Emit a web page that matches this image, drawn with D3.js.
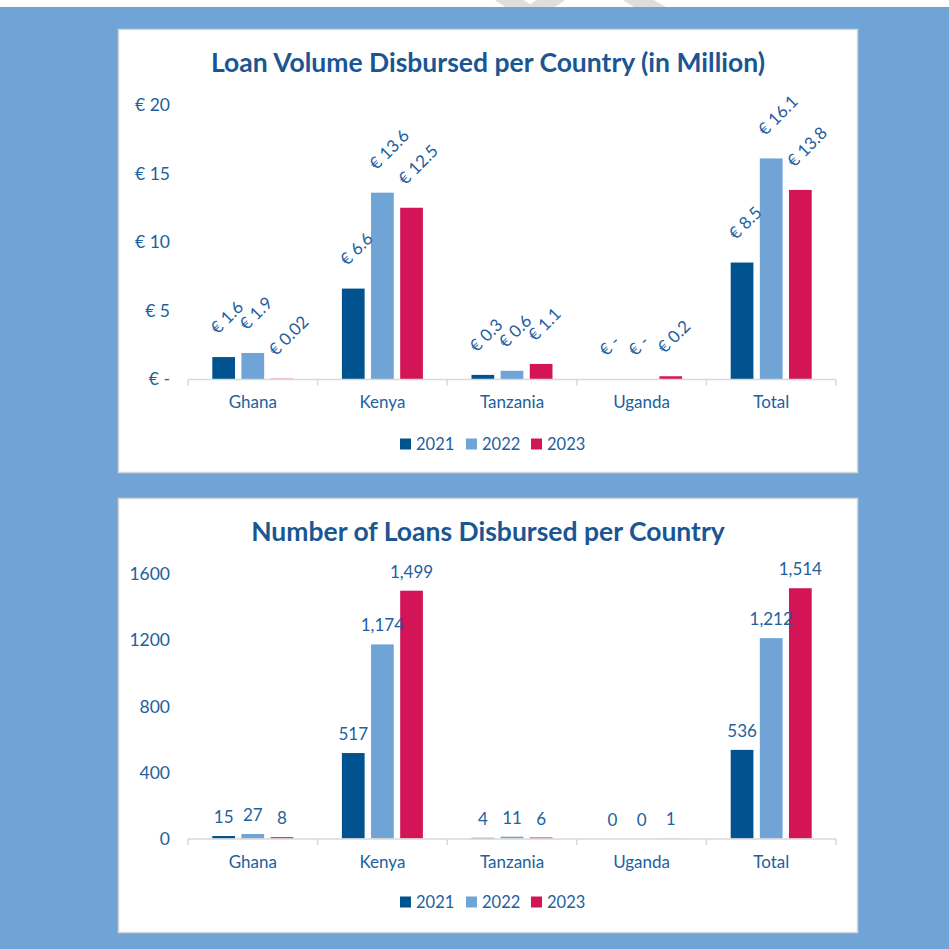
<!DOCTYPE html>
<html>
<head>
<meta charset="utf-8">
<script src="https://cdn.jsdelivr.net/npm/d3@7"></script>
<style>
  html, body { margin: 0; padding: 0; background: #ffffff; }
  svg { display: block; font-family: Lato, 'Noto Sans', sans-serif; }
</style>
</head>
<body>
<div id="container"></div>
<script>
// data
const countries = ['Ghana', 'Kenya', 'Tanzania', 'Uganda', 'Total'];
const years = ['2021', '2022', '2023'];
const yearColors = ['#00538f', '#70a3d6', '#d31558'];

const volume2021 = [1.6, 6.6, 0.3, 0, 8.5];
const volume2022 = [1.9, 13.6, 0.6, 0, 16.1];
const volume2023 = [0.02, 12.5, 1.1, 0.2, 13.8];
const volumeTicks = [0, 5, 10, 15, 20];

const loans2021 = [15, 517, 4, 0, 536];
const loans2022 = [27, 1174, 11, 0, 1212];
const loans2023 = [8, 1499, 6, 1, 1514];
const loanTicks = [0, 400, 800, 1200, 1600];

const titleColor = '#1b5694';
const textColor = '#22609e';

const width = 949;
const height = 949;

const svg = d3.select('#container')
  .append('svg')
  .attr('width', width)
  .attr('height', height);

// 1. background + faint watermark at the very top
svg.append('rect')
  .attr('x', 0).attr('y', 0)
  .attr('width', width).attr('height', height)
  .attr('fill', '#ffffff');

svg.append('path')
  .attr('d', 'M500,-6 L530,14 L560,-6 M628,-6 L672,20')
  .attr('fill', 'none')
  .attr('stroke', '#dedede')
  .attr('stroke-width', 16);

svg.append('rect')
  .attr('x', 0).attr('y', 7)
  .attr('width', width).attr('height', height - 7)
  .attr('fill', '#70a3d6');

function euro(v) {
  return v === 0 ? '€ -' : `€ ${v}`;
}

function drawChart({top, bottom, title, titleY, axisY, domainTop, ticks, tickFormat, series, labelFormat, rotated, legendY}) {
  // panel
  svg.append('rect')
    .attr('x', 118.5).attr('y', top + 0.5)
    .attr('width', 739).attr('height', bottom - top)
    .attr('fill', '#ffffff')
    .attr('stroke', '#d6d6d6')
    .attr('stroke-width', 1.5);

  const g = svg.append('g');

  g.append('text')
    .attr('x', 488)
    .attr('y', titleY)
    .attr('text-anchor', 'middle')
    .attr('font-size', 26.5)
    .attr('font-weight', 'bold')
    .attr('fill', titleColor)
    .text(title);

  // scales
  const x0 = d3.scaleBand().domain(countries).range([188, 836]);
  const bw = x0.bandwidth();
  const x1 = d3.scaleBand().domain(years).range([bw / 2 - 40.5, bw / 2 + 40.5]).paddingInner(0.22);
  const yScale = d3.scaleLinear().domain([0, ticks[ticks.length - 1]]).range([axisY, domainTop]);

  // y tick labels
  g.selectAll('.ytick')
    .data(ticks)
    .enter()
    .append('text')
    .attr('x', 170)
    .attr('y', d => yScale(d))
    .attr('dy', '0.36em')
    .attr('text-anchor', 'end')
    .attr('font-size', 17.5)
    .attr('fill', textColor)
    .text(tickFormat);

  // bars
  const rows = [];
  countries.forEach((c, i) => {
    years.forEach((yr, j) => {
      rows.push({country: c, year: yr, j: j, value: series[j][i]});
    });
  });

  g.selectAll('.bar')
    .data(rows)
    .enter()
    .append('rect')
    .attr('x', d => x0(d.country) + x1(d.year))
    .attr('y', d => yScale(d.value))
    .attr('width', x1.bandwidth())
    .attr('height', d => axisY - yScale(d.value))
    .attr('fill', d => yearColors[d.j]);

  // x axis line + ticks at category boundaries
  g.append('line')
    .attr('x1', 188).attr('x2', 836)
    .attr('y1', axisY + 0.5).attr('y2', axisY + 0.5)
    .attr('stroke', '#d9d9d9')
    .attr('stroke-width', 1.5);

  const bounds = countries.map(c => x0(c)).concat([x0.range()[1]]);
  g.selectAll('.xtick')
    .data(bounds)
    .enter()
    .append('line')
    .attr('x1', d => d).attr('x2', d => d)
    .attr('y1', axisY + 0.5).attr('y2', axisY + 6.5)
    .attr('stroke', '#d9d9d9')
    .attr('stroke-width', 1.5);

  g.selectAll('.xlabel')
    .data(countries)
    .enter()
    .append('text')
    .attr('x', d => x0(d) + bw / 2)
    .attr('y', axisY + 29)
    .attr('text-anchor', 'middle')
    .attr('font-size', 17)
    .attr('fill', textColor)
    .text(d => d);

  // value labels
  const labels = g.selectAll('.vlabel')
    .data(rows)
    .enter()
    .append('text')
    .attr('font-size', 17)
    .attr('fill', textColor)
    .text(d => labelFormat(d.value));

  if (rotated) {
    labels
      .attr('text-anchor', 'start')
      .attr('transform', d => {
        const cx = x0(d.country) + x1(d.year) + x1.bandwidth() / 2;
        return `translate(${cx - 6},${yScale(d.value) - 22}) rotate(-45)`;
      });
  } else {
    labels
      .attr('text-anchor', 'middle')
      .attr('x', d => x0(d.country) + x1(d.year) + x1.bandwidth() / 2)
      .attr('y', d => yScale(d.value) - 13);
  }

  // legend
  const legendX = [400, 466, 531];
  const legend = g.selectAll('.legend')
    .data(years)
    .enter()
    .append('g')
    .attr('transform', (d, i) => `translate(${legendX[i]},${legendY})`);

  legend.append('rect')
    .attr('x', 0).attr('y', -5.5)
    .attr('width', 11).attr('height', 11)
    .attr('fill', (d, i) => yearColors[i]);

  legend.append('text')
    .attr('x', 16)
    .attr('y', 0)
    .attr('dy', '0.36em')
    .attr('font-size', 16.5)
    .attr('fill', textColor)
    .text(d => d);
}

// 2. top chart - loan volume
drawChart({
  top: 29, bottom: 472,
  title: 'Loan Volume Disbursed per Country (in Million)',
  titleY: 72,
  axisY: 379,
  domainTop: 105,
  ticks: volumeTicks,
  tickFormat: euro,
  series: [volume2021, volume2022, volume2023],
  labelFormat: euro,
  rotated: true,
  legendY: 444
});

// 3. bottom chart - number of loans
drawChart({
  top: 498, bottom: 932,
  title: 'Number of Loans Disbursed per Country',
  titleY: 541,
  axisY: 838.5,
  domainTop: 574,
  ticks: loanTicks,
  tickFormat: d => d,
  series: [loans2021, loans2022, loans2023],
  labelFormat: d3.format(','),
  rotated: false,
  legendY: 902
});
</script>
</body>
</html>
